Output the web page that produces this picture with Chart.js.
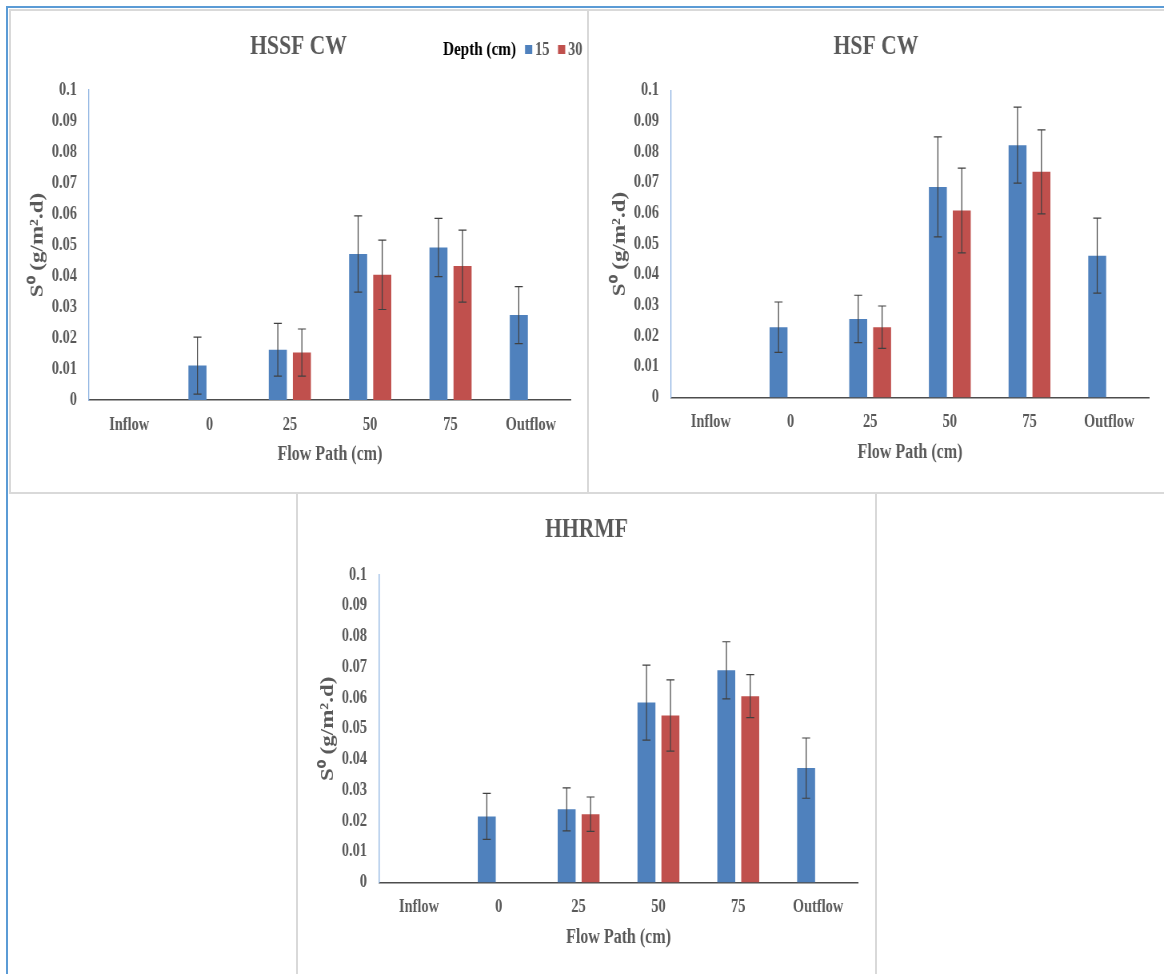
<!DOCTYPE html>
<html>
<head>
<meta charset="utf-8">
<script src="https://cdn.jsdelivr.net/npm/chart.js@4.4.1/dist/chart.umd.min.js"></script>
<style>
  html, body { margin: 0; padding: 0; background: #ffffff; }
  body { position: relative; width: 1164px; height: 974px; overflow: hidden; }
  .line { position: absolute; }
</style>
</head>
<body>
<script>
// ---------------- DATA ----------------
const categories = ["Inflow", "0", "25", "50", "75", "Outflow"];
const seriesNames = ["15", "30"];
const yTickLabels = ["0", "0.01", "0.02", "0.03", "0.04", "0.05", "0.06", "0.07", "0.08", "0.09", "0.1"];

// HSSF CW
const hssf15    = [null, 0.0111, 0.0162, 0.0471, 0.0492, 0.0274];
const hssf15Err = [null, 0.0092, 0.0085, 0.0123, 0.0094, 0.0092];
const hssf30    = [null, null,   0.0153, 0.0404, 0.0432, null];
const hssf30Err = [null, null,   0.0076, 0.0112, 0.0116, null];

// HSF CW
const hsf15     = [null, 0.0229, 0.0256, 0.0686, 0.0822, 0.0462];
const hsf15Err  = [null, 0.0082, 0.0077, 0.0163, 0.0124, 0.0122];
const hsf30     = [null, null,   0.0229, 0.0609, 0.0735, null];
const hsf30Err  = [null, null,   0.0069, 0.0138, 0.0137, null];

// HHRMF
const hhrmf15    = [null, 0.0215, 0.0238, 0.0585, 0.0690, 0.0372];
const hhrmf15Err = [null, 0.0075, 0.0070, 0.0122, 0.0093, 0.0098];
const hhrmf30    = [null, null,   0.0222, 0.0543, 0.0606, null];
const hhrmf30Err = [null, null,   0.0056, 0.0116, 0.0070, null];

const chartTitles = ["HSSF CW", "HSF CW", "HHRMF"];
const xAxisTitle = "Flow Path (cm)";
const yAxisTitle = "S\u2070 (g/m\u00B2.d)";
const legendTitle = "Depth (cm)";

// ---------------- STYLE / LAYOUT ----------------
const FONT = "'Liberation Serif', 'Times New Roman', serif";
const BLUE = "#4f81bd";
const RED = "#c0504d";
const TEXT = "#595959";
const FX = 0.8; // horizontal squeeze of the original figure

function addLine(x, y, w, h, color) {
  const d = document.createElement('div');
  d.className = 'line';
  d.style.cssText = `left:${x}px;top:${y}px;width:${w}px;height:${h}px;background:${color};`;
  document.body.appendChild(d);
}

const errorBarPlugin = {
  id: 'errorBars',
  afterDatasetsDraw(chart) {
    const ctx = chart.ctx;
    const ys = chart.scales.y;
    chart.data.datasets.forEach((ds, di) => {
      if (!ds.errorBars) return;
      const meta = chart.getDatasetMeta(di);
      meta.data.forEach((bar, i) => {
        const v = ds.data[i], e = ds.errorBars[i];
        if (v == null || e == null) return;
        const yt = ys.getPixelForValue(v + e);
        const yb = ys.getPixelForValue(v - e);
        ctx.save();
        ctx.strokeStyle = '#404040';
        ctx.lineWidth = 1.2;
        ctx.beginPath();
        ctx.moveTo(bar.x, yt); ctx.lineTo(bar.x, yb);
        ctx.moveTo(bar.x - 5, yt); ctx.lineTo(bar.x + 5, yt);
        ctx.moveTo(bar.x - 5, yb); ctx.lineTo(bar.x + 5, yb);
        ctx.stroke();
        ctx.restore();
      });
    });
  }
};

function makeLegendPlugin(pos) {
  return {
    id: 'depthLegend',
    afterDraw(chart) {
      const ctx = chart.ctx;
      ctx.save();
      ctx.textBaseline = 'middle';
      ctx.textAlign = 'left';
      ctx.font = `bold 19px ${FONT}`;
      ctx.fillStyle = '#000000';
      ctx.fillText(legendTitle, pos.title, pos.yc);
      const boxes = [pos.box1, pos.box2];
      const texts = [pos.t1, pos.t2];
      const colors = [BLUE, RED];
      for (let i = 0; i < 2; i++) {
        ctx.fillStyle = colors[i];
        ctx.fillRect(boxes[i], pos.yc - 5, 9, 9);
        ctx.font = `bold 18px ${FONT}`;
        ctx.fillStyle = TEXT;
        ctx.fillText(chart.data.datasets[i].label, texts[i], pos.yc);
      }
      ctx.restore();
    }
  };
}

function makePanel(cfg) {
  const canvas = document.createElement('canvas');
  const cw = Math.round(cfg.w / FX);
  const fx = cfg.w / cw;
  canvas.width = cw;
  canvas.height = cfg.h;
  canvas.style.cssText = `position:absolute;left:${cfg.x}px;top:${cfg.y}px;width:${cfg.w}px;height:${cfg.h}px;`;
  document.body.appendChild(canvas);

  const cx = px => (px - cfg.x) / fx;
  const cy = py => py - cfg.y;
  const left = cx(cfg.plotL), right = cx(cfg.plotR);
  const top = cy(cfg.plotT), bottom = cy(cfg.plotB);
  const sidePad = cw - right;             // equal side padding keeps the title centred on the panel

  const titleSize = 27, titleLH = titleSize * 1.2;
  const titlePadTop = 37 - titleLH / 2;
  const titlePadBottom = top - titlePadTop - titleLH;

  const xH = cfg.h - bottom;
  const xTitleSize = 20, xTitleLH = xTitleSize * 1.2;
  const xTitlePadBottom = xH - 55 - xTitleLH / 2;
  const tickSize = 18, tickLH = tickSize * 1.2;

  const yTitleSize = 23, yTitleLH = yTitleSize * 1.2;
  const yTitlePadTop = cx(cfg.plotL - 51) - sidePad - yTitleLH / 2;

  const plugins = [errorBarPlugin];
  if (cfg.legend) {
    plugins.push(makeLegendPlugin({
      title: cx(443), box1: cx(525), t1: cx(535), box2: cx(558), t2: cx(568), yc: cy(50)
    }));
  }

  new Chart(canvas, {
    type: 'bar',
    data: {
      labels: categories,
      datasets: [
        { label: seriesNames[0], data: cfg.s1, errorBars: cfg.e1, backgroundColor: BLUE,
          categoryPercentage: 0.6, barPercentage: 0.75 },
        { label: seriesNames[1], data: cfg.s2, errorBars: cfg.e2, backgroundColor: RED,
          categoryPercentage: 0.6, barPercentage: 0.75 }
      ]
    },
    options: {
      responsive: false,
      animation: false,
      events: [],
      layout: { padding: { left: sidePad, right: sidePad, top: 0, bottom: 0 } },
      plugins: {
        legend: { display: false },
        tooltip: { enabled: false },
        title: {
          display: true, text: cfg.title, color: TEXT,
          font: { family: FONT, size: titleSize, weight: 'bold' },
          padding: { top: titlePadTop, bottom: titlePadBottom }
        }
      },
      scales: {
        x: {
          z: 1,
          grid: { display: false, drawTicks: false },
          border: { display: true, color: '#4d4d4d', width: 1.6 },
          ticks: { color: TEXT, padding: 25 - tickLH / 2, font: { family: FONT, size: tickSize, weight: 'bold' } },
          title: {
            display: true, text: xAxisTitle, color: TEXT,
            font: { family: FONT, size: xTitleSize, weight: 'bold' },
            padding: { top: 0, bottom: xTitlePadBottom }
          },
          afterFit: s => { s.height = xH; }
        },
        y: {
          min: 0, max: 0.1,
          grid: { display: false, drawTicks: false },
          border: { display: true, color: '#8db3e2', width: 1.3 },
          ticks: {
            stepSize: 0.01, padding: 15, color: TEXT,
            font: { family: FONT, size: tickSize, weight: 'bold' },
            callback: v => yTickLabels[Math.round(v * 100)]
          },
          title: {
            display: true, text: yAxisTitle, color: TEXT,
            font: { family: FONT, size: yTitleSize, weight: 'bold' },
            padding: { top: yTitlePadTop, bottom: 0 }
          },
          afterFit: s => { s.width = left - sidePad; }
        }
      }
    },
    plugins: plugins
  });
}

makePanel({ x: 9, y: 10, w: 579, h: 483, plotL: 89, plotR: 571, plotT: 90, plotB: 400,
  title: chartTitles[0], legend: true, s1: hssf15, e1: hssf15Err, s2: hssf30, e2: hssf30Err });
makePanel({ x: 588, y: 10, w: 576, h: 483, plotL: 671, plotR: 1149, plotT: 90.5, plotB: 397.5,
  title: chartTitles[1], legend: false, s1: hsf15, e1: hsf15Err, s2: hsf30, e2: hsf30Err });
makePanel({ x: 297, y: 493, w: 579, h: 481, plotL: 379, plotR: 858, plotT: 575, plotB: 882.5,
  title: chartTitles[2], legend: false, s1: hhrmf15, e1: hhrmf15Err, s2: hhrmf30, e2: hhrmf30Err });

// Panel frames
const G = '#d9d9d9';
addLine(9, 9, 1155, 2, G);      // top of panels 1 & 2
addLine(9, 9, 2, 485, G);       // left of panel 1
addLine(587, 9, 2, 485, G);     // divider panel 1 / 2
addLine(9, 492, 1155, 2, G);    // bottom of panels 1 & 2 / top of panel 3
addLine(296, 492, 2, 482, G);   // left of panel 3
addLine(875, 492, 2, 482, G);   // right of panel 3
// outer blue frame
addLine(6, 6, 1158, 2, '#5b9bd5');
addLine(6, 6, 2, 968, '#5b9bd5');
</script>
</body>
</html>
